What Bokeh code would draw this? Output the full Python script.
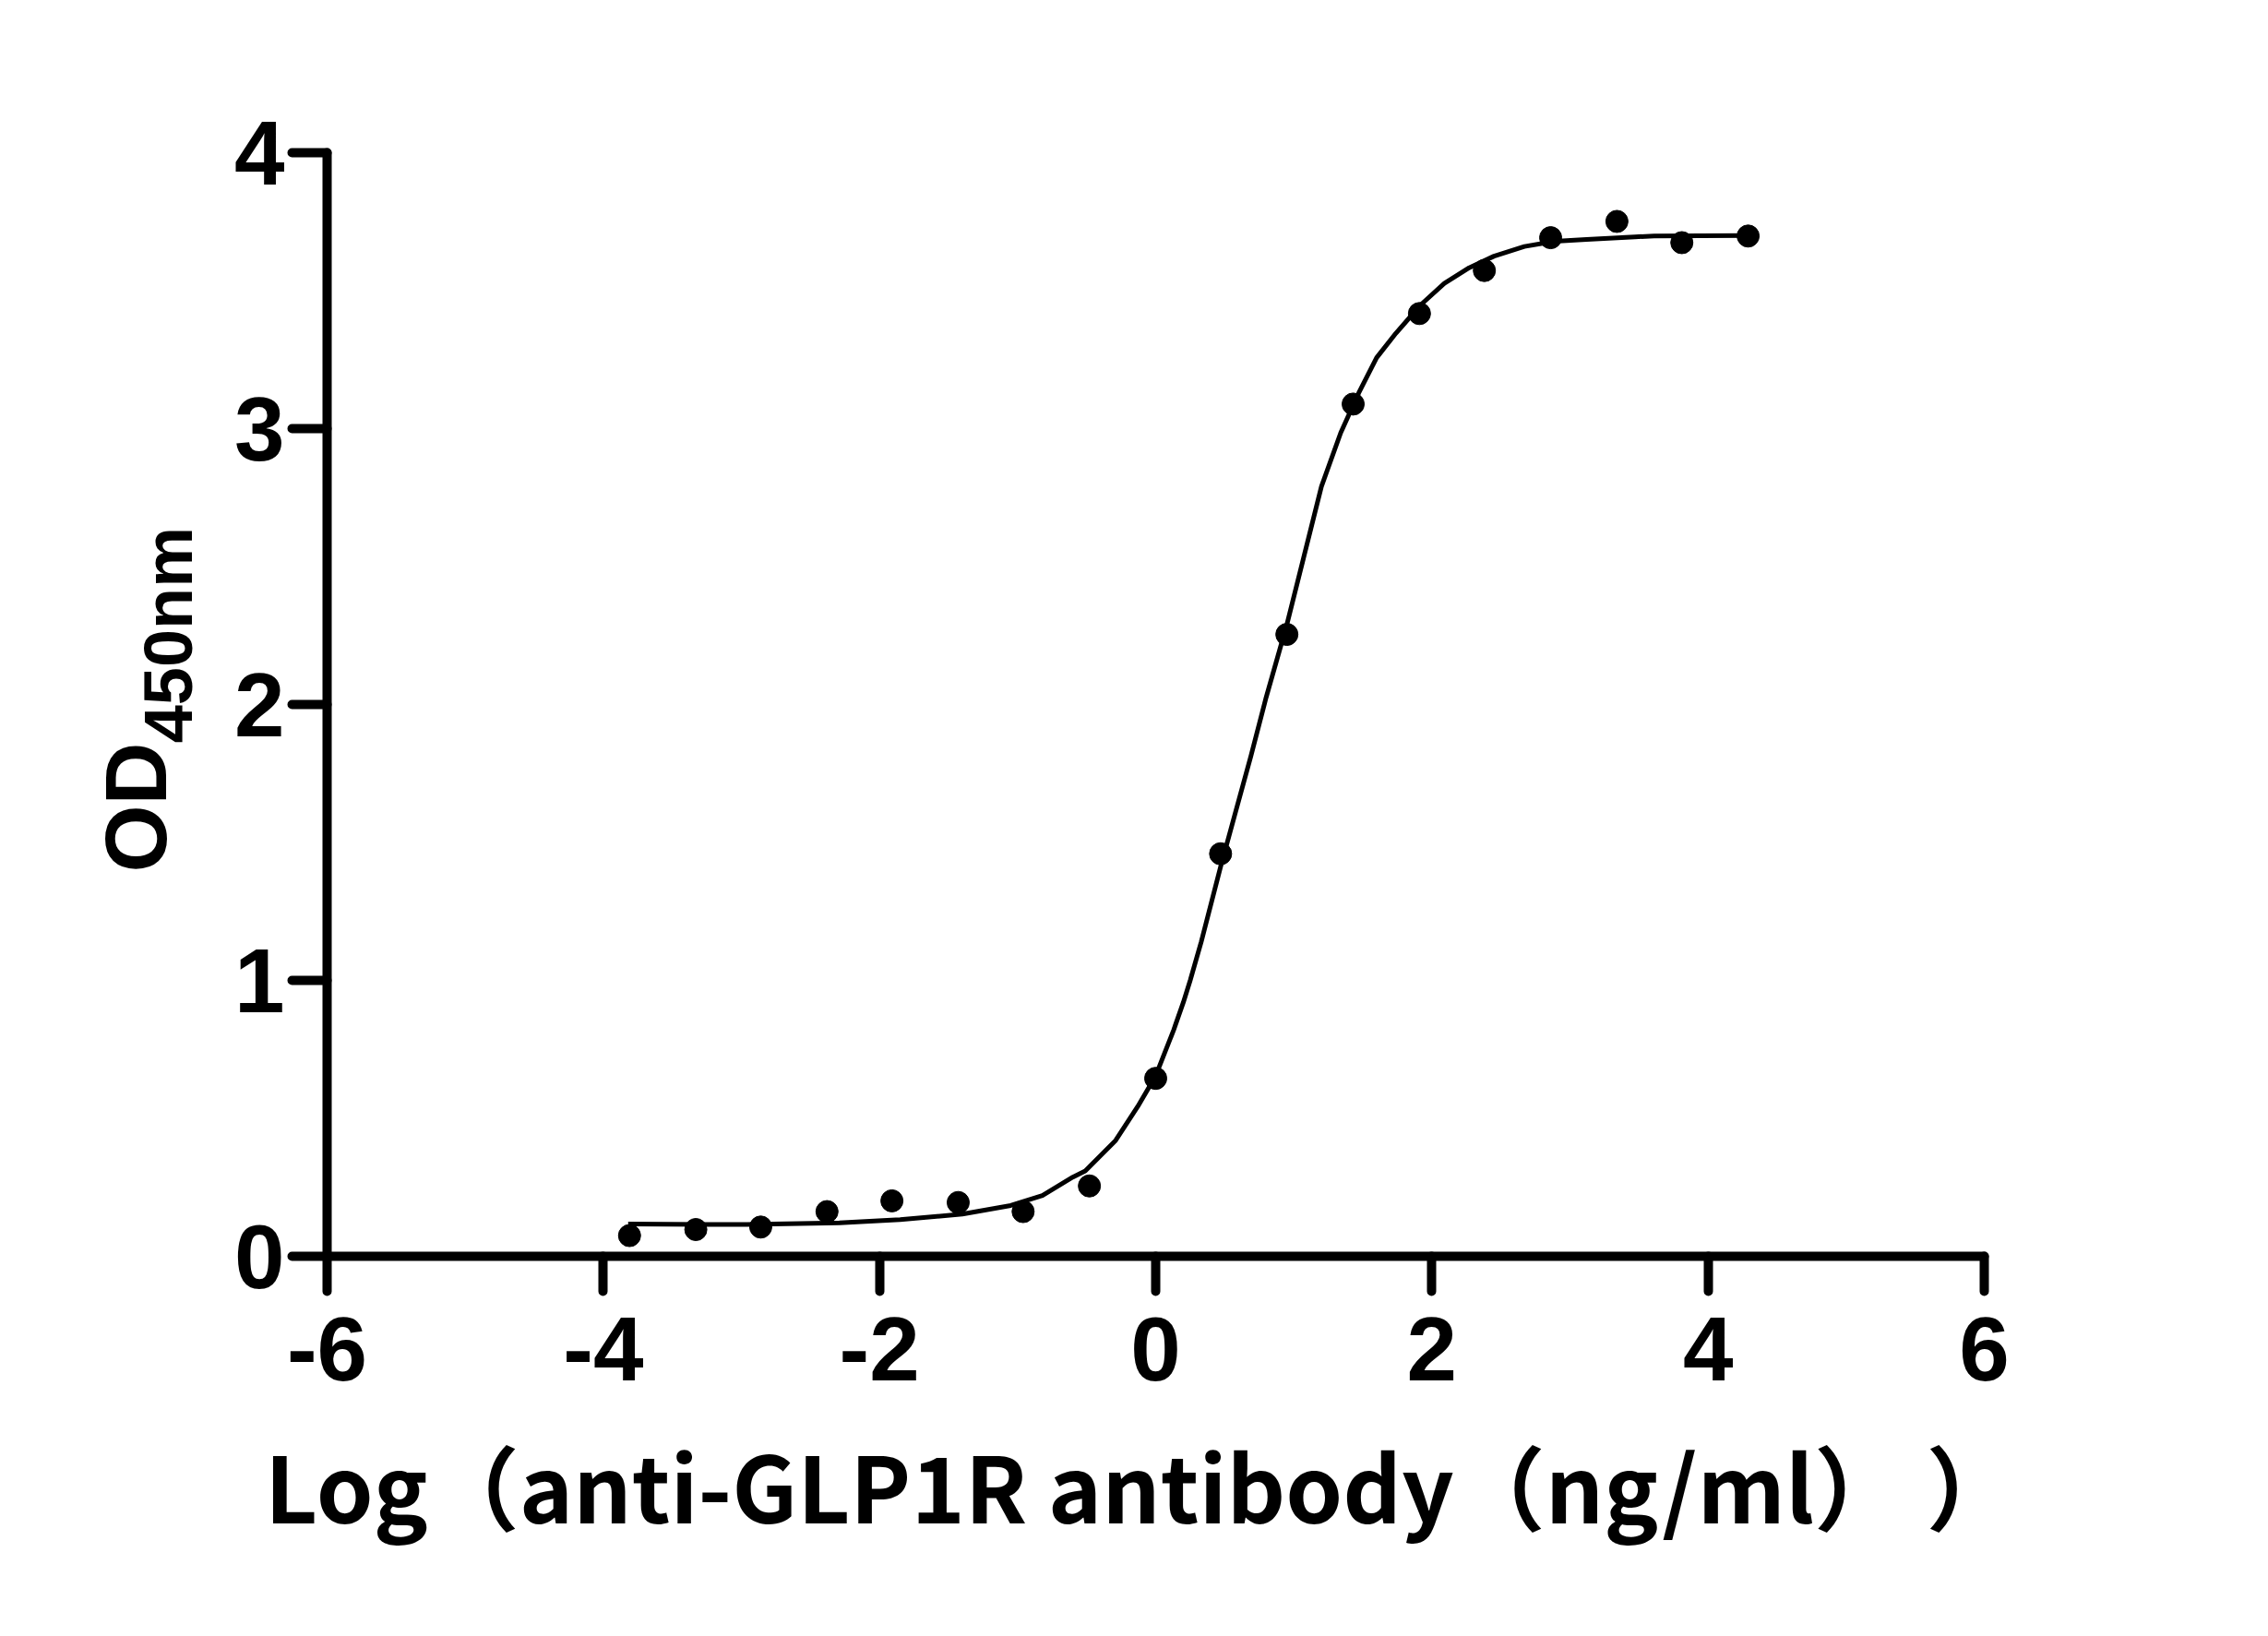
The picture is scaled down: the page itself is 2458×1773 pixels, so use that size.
from bokeh.plotting import figure
from bokeh.models import FixedTicker, Label, Range1d, LinearAxis
from bokeh.embed import file_html
from bokeh.resources import INLINE

# measured data points (log10 concentration, OD450)
log_conc = [-3.81, -3.33, -2.86, -2.38, -1.91, -1.43, -0.96, -0.48, 0.00,
            0.47, 0.95, 1.43, 1.91, 2.38, 2.86, 3.34, 3.81, 4.29]
od450 = [0.075, 0.097, 0.106, 0.162, 0.201, 0.195, 0.162, 0.255, 0.645,
         1.459, 2.254, 3.089, 3.417, 3.573, 3.692, 3.751, 3.674, 3.698]

# fitted curve
curve_x = [-3.82, -2.96, -2.29, -1.85, -1.40, -1.05, -0.82, -0.60, -0.51, -0.29,
           -0.13, 0.00, 0.13, 0.20, 0.25, 0.33, 0.47, 0.58, 0.69, 0.80,
           0.95, 1.07, 1.20, 1.34, 1.47, 1.60, 1.74, 1.92, 2.09, 2.27, 2.45,
           2.67, 2.89, 3.12, 3.47, 3.61, 4.29]
curve_y = [0.117, 0.115, 0.121, 0.133, 0.153, 0.184, 0.220, 0.287, 0.309, 0.420,
           0.543, 0.654, 0.820, 0.920, 1.000, 1.140, 1.412, 1.613, 1.814, 2.026,
           2.290, 2.530, 2.790, 2.985, 3.129, 3.257, 3.346, 3.449, 3.526, 3.583, 3.625,
           3.660, 3.679, 3.686, 3.695, 3.698, 3.700]

x_ticks = [-6, -4, -2, 0, 2, 4, 6]
x_tick_labels = ["-6", "-4", "-2", "0", "2", "4", "6"]
y_ticks = [0, 1, 2, 3, 4]
x_label = "Log\uff08anti-GLP1R antibody\uff08ng/ml\uff09  \uff09"
y_label_main = "OD"
y_label_sub = "450nm"

FONT = "Liberation Sans"
CJK = "Noto Sans CJK SC"

# layout (pixels)
W, H = 2442, 1757
AX_LEFT, AX_TOP, AX_W, AX_H = 354, 165, 1796, 1196
XMIN, XMAX, YMIN, YMAX = -6, 6, 0, 4
ppx = AX_W / (XMAX - XMIN)
ppy = AX_H / (YMAX - YMIN)
x0 = XMIN - AX_LEFT / ppx
x1 = XMAX + (W - AX_LEFT - AX_W) / ppx
y0 = YMIN - (H - AX_TOP - AX_H) / ppy
y1 = YMAX + AX_TOP / ppy

p = figure(width=W, height=H, output_backend="svg", toolbar_location=None,
           x_range=Range1d(x0, x1), y_range=Range1d(y0, y1),
           x_axis_location=None, y_axis_location=None)
p.min_border = 0
p.outline_line_color = None
p.xgrid.visible = False
p.ygrid.visible = False
p.background_fill_color = "white"
p.border_fill_color = "white"

xax = LinearAxis(fixed_location=YMIN, bounds=(XMIN, XMAX), ticker=FixedTicker(ticks=x_ticks))
yax = LinearAxis(fixed_location=XMIN, bounds=(YMIN, YMAX), ticker=FixedTicker(ticks=y_ticks))
for ax in (xax, yax):
    ax.axis_line_width = 10
    ax.axis_line_color = "black"
    ax.axis_line_cap = "round"
    ax.major_tick_line_width = 10
    ax.major_tick_line_color = "black"
    ax.major_tick_line_cap = "round"
    ax.major_tick_out = 38
    ax.major_tick_in = 0
    ax.minor_tick_line_color = None
    ax.major_label_text_font = FONT
    ax.major_label_text_font_style = "bold"
    ax.major_label_text_font_size = "98px"
    ax.major_label_text_color = "black"
xax.major_label_overrides = {t: s for t, s in zip(x_ticks, x_tick_labels)}
xax.major_label_standoff = 28
yax.major_label_standoff = 8
p.add_layout(xax, "below")
p.add_layout(yax, "left")

p.line(curve_x, curve_y, line_width=5, line_color="black", line_join="round")
p.scatter(log_conc, od450, size=24, fill_color="black", line_color="black")

p.add_layout(Label(x=-7.38, y=1.391, text=y_label_main, angle=1.5708,
                   text_font=FONT, text_font_style="bold", text_font_size="94px",
                   text_align="left", text_baseline="alphabetic", text_color="black"))
p.add_layout(Label(x=-7.15, y=1.860, text=y_label_sub, angle=1.5708,
                   text_font=FONT, text_font_style="bold", text_font_size="74px",
                   text_align="left", text_baseline="alphabetic", text_color="black"))
p.add_layout(Label(x=-0.03, y=-0.823, text=x_label,
                   text_font=CJK, text_font_style="bold", text_font_size="99px",
                   text_align="center", text_baseline="alphabetic", text_color="black"))

open("out.html", "w").write(file_html(p, INLINE))
